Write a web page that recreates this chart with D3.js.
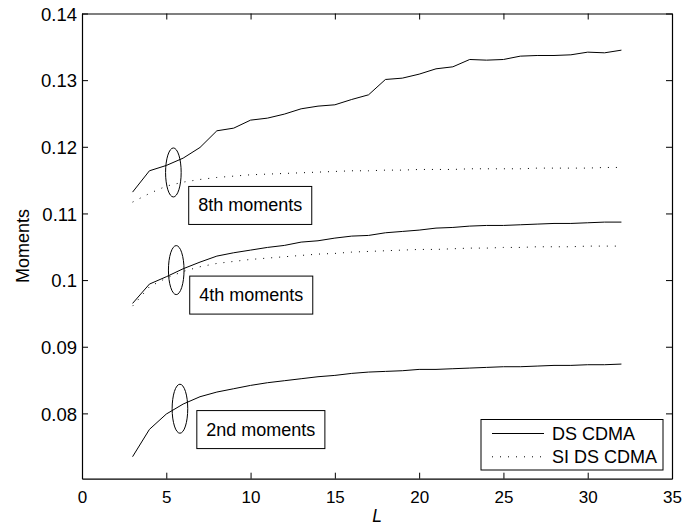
<!DOCTYPE html>
<html>
<head>
<meta charset="utf-8">
<script src="https://cdn.jsdelivr.net/npm/d3@7"></script>
<style>
  body { margin: 0; background: #fff; }
  svg { display: block; font-family: "Liberation Sans", Arial, sans-serif; }
</style>
</head>
<body>
<svg id="chart"></svg>
<script>
// x values (L)
var L = [3, 4, 5, 6, 7, 8, 9, 10, 11, 12, 13, 14, 15, 16, 17, 18, 19, 20, 21, 22, 23, 24, 25, 26, 27, 28, 29, 30, 31, 32];

// DS CDMA (solid)
var ds8 = [0.1132, 0.1164, 0.1172, 0.1183, 0.1199, 0.1224, 0.1228, 0.1240, 0.1243, 0.1249, 0.1257, 0.1261, 0.1263, 0.1271, 0.1278, 0.1301,
  0.1303, 0.1309, 0.1317, 0.1320, 0.1331, 0.1330, 0.1331, 0.1336, 0.1337, 0.1337, 0.1338, 0.1342, 0.1341, 0.1345];
var ds4 = [0.0965, 0.0994, 0.1005, 0.1017, 0.1027, 0.1036, 0.1041, 0.1045, 0.1049, 0.1052, 0.1057, 0.1059, 0.1063, 0.1066, 0.1067, 0.1071,
  0.1073, 0.1075, 0.1078, 0.1079, 0.1081, 0.1082, 0.1082, 0.1083, 0.1084, 0.1085, 0.1085, 0.1086, 0.1087, 0.1087];
var ds2 = [0.0735, 0.0776, 0.0799, 0.0814, 0.0825, 0.0832, 0.0837, 0.0842, 0.0846, 0.0849, 0.0852, 0.0855, 0.0857, 0.0860, 0.0862, 0.0863,
  0.0864, 0.0866, 0.0866, 0.0867, 0.0868, 0.0869, 0.0870, 0.0870, 0.0871, 0.0872, 0.0872, 0.0873, 0.0873, 0.0874];

// SI DS CDMA (dotted)
var si8 = [0.1117, 0.1130, 0.1141, 0.1147, 0.1151, 0.1154, 0.1156, 0.1158, 0.1159, 0.1160, 0.1161, 0.1162, 0.1163, 0.1164, 0.1164, 0.1165,
  0.1165, 0.1166, 0.1166, 0.1166, 0.1167, 0.1167, 0.1167, 0.1167, 0.1168, 0.1168, 0.1168, 0.1168, 0.1169, 0.1169];
var si4 = [0.0961, 0.0990, 0.1003, 0.1013, 0.1020, 0.1025, 0.1028, 0.1031, 0.1033, 0.1035, 0.1037, 0.1039, 0.1040, 0.1042, 0.1043, 0.1044,
  0.1045, 0.1046, 0.1046, 0.1047, 0.1048, 0.1048, 0.1049, 0.1049, 0.1050, 0.1050, 0.1050, 0.1051, 0.1051, 0.1051];

var xTicks = [0, 5, 10, 15, 20, 25, 30, 35];
var yTicks = [0.08, 0.09, 0.1, 0.11, 0.12, 0.13, 0.14];
var yTickLabels = ["0.08", "0.09", "0.1", "0.11", "0.12", "0.13", "0.14"];

// annotations: label, ellipse centre (L, value), box centre (L, value)
var noteLabels = ["8th moments", "4th moments", "2nd moments"];
var noteEllipse = [[5.42, 0.11615], [5.59, 0.1015], [5.81, 0.0807]];
var noteBox = [[9.98, 0.1112], [10.04, 0.09775], [10.61, 0.07757]];

var legendLabels = ["DS CDMA", "SI DS CDMA"];

var margin = { top: 13.5, right: 11, bottom: 47.3, left: 82 };
var width = 683 - margin.left - margin.right;
var height = 526 - margin.top - margin.bottom;

var svg = d3.select("#chart")
  .attr("width", 683)
  .attr("height", 526);

var g = svg.append("g")
  .attr("transform", "translate(" + margin.left + "," + margin.top + ")");

var xScale = d3.scaleLinear().domain([0, 35]).range([0, width]);
var yScale = d3.scaleLinear().domain([0.0702, 0.14]).range([height, 0]);

// axes (ticks inside, box on all sides)
var xAxis = g.append("g")
  .attr("transform", "translate(0," + height + ")")
  .call(d3.axisBottom(xScale).tickValues(xTicks).tickSizeInner(-6).tickSizeOuter(0).tickPadding(12).tickFormat(d3.format("d")));
var xTop = g.append("g")
  .call(d3.axisTop(xScale).tickValues(xTicks).tickSizeInner(-6).tickSizeOuter(0).tickFormat(""));
var yAxis = g.append("g")
  .call(d3.axisLeft(yScale).tickValues(yTicks).tickSizeInner(-6).tickSizeOuter(0).tickPadding(5)
    .tickFormat(function(d, i) { return yTickLabels[i]; }));
var yRight = g.append("g")
  .attr("transform", "translate(" + width + ",0)")
  .call(d3.axisRight(yScale).tickValues(yTicks).tickSizeInner(-6).tickSizeOuter(0).tickFormat(""));

[xAxis, xTop, yAxis, yRight].forEach(function(a) {
  a.select(".domain").attr("stroke", "#000").attr("stroke-width", 1.2);
  a.selectAll(".tick line").attr("stroke", "#000");
  a.selectAll("text").attr("fill", "#000").style("font-family", "Liberation Sans, Arial, sans-serif");
});
xAxis.selectAll("text").style("font-size", "17px");
yAxis.selectAll("text").style("font-size", "18.5px").attr("dy", "0.36em");

// axis labels
svg.append("text")
  .attr("x", margin.left + width / 2)
  .attr("y", 522)
  .attr("text-anchor", "middle")
  .style("font-size", "17.5px")
  .style("font-style", "italic")
  .text("L");

svg.append("text")
  .attr("transform", "translate(28.5,246) rotate(-90)")
  .attr("text-anchor", "middle")
  .style("font-size", "18px")
  .text("Moments");

// lines
var line = d3.line()
  .x(function(d, i) { return xScale(L[i]); })
  .y(function(d) { return yScale(d); });

[ds8, ds4, ds2].forEach(function(s) {
  g.append("path")
    .datum(s)
    .attr("d", line)
    .attr("fill", "none")
    .attr("stroke", "#000")
    .attr("stroke-width", 1);
});

[si8, si4].forEach(function(s) {
  g.append("path")
    .datum(s)
    .attr("d", line)
    .attr("fill", "none")
    .attr("stroke", "#000")
    .attr("stroke-width", 1)
    .attr("stroke-dasharray", "1,7");
});

// ellipses and text boxes
noteLabels.forEach(function(lab, i) {
  g.append("ellipse")
    .attr("cx", xScale(noteEllipse[i][0]))
    .attr("cy", yScale(noteEllipse[i][1]))
    .attr("rx", 7.8)
    .attr("ry", 24.5)
    .attr("fill", "none")
    .attr("stroke", "#000")
    .attr("stroke-width", 1);

  var bx = xScale(noteBox[i][0]);
  var by = yScale(noteBox[i][1]);
  var box = g.append("rect")
    .attr("fill", "#fff")
    .attr("stroke", "#000")
    .attr("stroke-width", 1);
  var t = g.append("text")
    .attr("x", bx)
    .attr("y", by + 6)
    .attr("text-anchor", "middle")
    .style("font-size", "18px")
    .text(lab);
  var w = t.node().getComputedTextLength() + 19;
  box.attr("x", bx - w / 2)
    .attr("y", by - 19)
    .attr("width", w)
    .attr("height", 38);
});

// legend
var legend = svg.append("g").attr("transform", "translate(481,419.5)");
legend.append("rect")
  .attr("width", 182)
  .attr("height", 50.5)
  .attr("fill", "#fff")
  .attr("stroke", "#000")
  .attr("stroke-width", 1);

legendLabels.forEach(function(lab, i) {
  var ly = 14 + i * 23.3;
  legend.append("line")
    .attr("x1", 11)
    .attr("x2", 63)
    .attr("y1", ly)
    .attr("y2", ly)
    .attr("stroke", "#000")
    .attr("stroke-width", 1)
    .attr("stroke-dasharray", i === 1 ? "1,7" : null);
  legend.append("text")
    .attr("x", 71)
    .attr("y", ly + 6.3)
    .style("font-size", "18px")
    .text(lab);
});
</script>
</body>
</html>
